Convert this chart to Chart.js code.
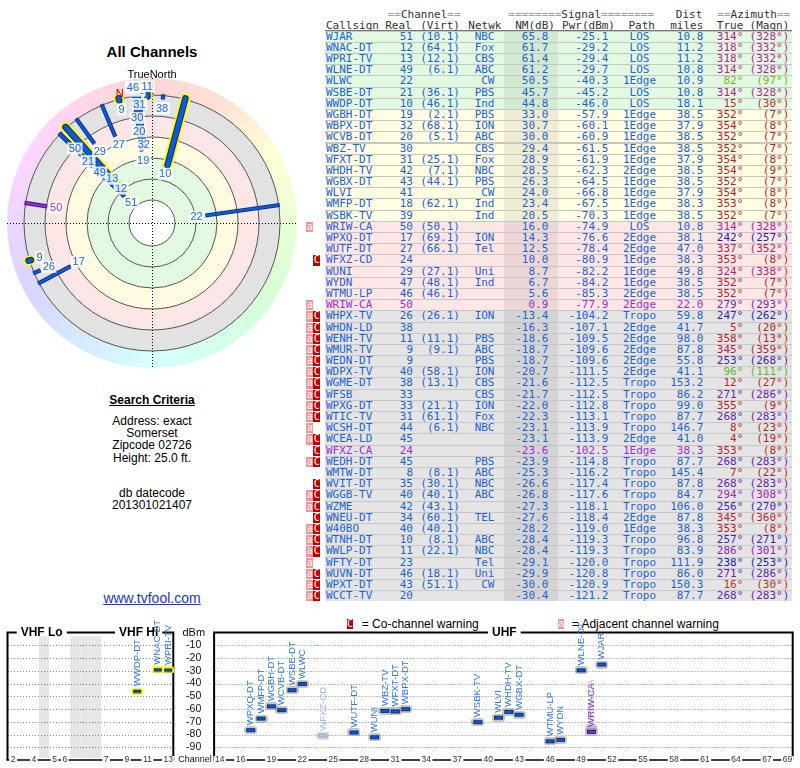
<!DOCTYPE html>
<html>
<head>
<meta charset="utf-8">
<title>All Channels</title>
<script src="https://cdn.jsdelivr.net/npm/chart.js@4.4.1/dist/chart.umd.min.js"></script>
<style>
  html, body { margin: 0; padding: 0; background: #fff; }
  body { position: relative; width: 800px; height: 768px; overflow: hidden;
         font-family: "Liberation Sans", Arial, sans-serif; color: #000; }
  .abs { position: absolute; white-space: pre; }
  .mono { font-family: "DejaVu Sans Mono", monospace; font-size: 11px; line-height: 11px; color: #333; }
  .eq { color: #a0a0a0; }
  .ctr { left: 2px; width: 300px; text-align: center; }
  .txt { font-size: 12px; line-height: 14px; }
  .row { position: absolute; left: 325px; width: 467px; height: 10.2px; }
  .cell { position: absolute; top: 0; line-height: 10.2px; white-space: pre;
          font-family: "DejaVu Sans Mono", monospace; font-size: 11px; }
  .warn { position: absolute; top: 0; height: 10.2px; line-height: 10.2px; color: #fff; text-align: center;
          font-family: "DejaVu Sans Mono", monospace; font-size: 10px; }
  canvas { position: absolute; }
</style>
</head>
<body>

<div class="abs ctr" style="top:43px;font-size:15px;font-weight:bold;">All Channels</div>

<div class="abs ctr txt" style="top:392.5px;font-weight:bold;text-decoration:underline;">Search Criteria</div>
<div class="abs ctr txt" style="top:413.5px;">Address: exact</div>
<div class="abs ctr txt" style="top:425.5px;">Somerset</div>
<div class="abs ctr txt" style="top:438px;">Zipcode 02726</div>
<div class="abs ctr txt" style="top:450.5px;">Height: 25.0 ft.</div>
<div class="abs ctr txt" style="top:485.5px;">db datecode</div>
<div class="abs ctr txt" style="top:498px;">201301021407</div>
<div class="abs ctr" style="top:590px;font-size:14px;line-height:16px;color:#2233cc;text-decoration:underline;">www.tvfool.com</div>

<!-- table header -->
<div class="abs mono" style="top:8.5px;left:387.7px;"><span class="eq">==</span>Channel<span class="eq">==</span></div>
<div class="abs mono" style="top:8.5px;left:508.3px;"><span class="eq">========</span>Signal<span class="eq">========</span></div>
<div class="abs mono" style="top:8.5px;right:97.7px;">Dist</div>
<div class="abs mono" style="top:8.5px;left:717.3px;"><span class="eq">==</span>Azimuth<span class="eq">==</span></div>

<div class="abs mono" style="top:19.5px;left:326px;">Callsign</div>
<div class="abs mono" style="top:19.5px;right:388.3px;">Real</div>
<div class="abs mono" style="top:19.5px;right:340px;">(Virt)</div>
<div class="abs mono" style="top:19.5px;left:468.3px;">Netwk</div>
<div class="abs mono" style="top:19.5px;right:245px;">NM(dB)</div>
<div class="abs mono" style="top:19.5px;right:185px;">Pwr(dBm)</div>
<div class="abs mono" style="top:19.5px;right:145px;">Path</div>
<div class="abs mono" style="top:19.5px;right:96.7px;">miles</div>
<div class="abs mono" style="top:19.5px;right:56.7px;">True</div>
<div class="abs mono" style="top:19.5px;right:10.7px;">(Magn)</div>
<div class="abs" style="top:30px;left:325px;width:467px;height:1px;background:#777;"></div>

<div id="tbl" class="abs" style="left:0;top:0;width:800px;height:610px;"></div>

<!-- warning legend -->
<div class="warn" style="left:346.7px;top:618.7px;width:6.8px;background:#c00000;">C</div>
<div class="abs txt" style="left:358.4px;top:616.7px;"> = Co-channel warning</div>
<div class="warn" style="left:557.7px;top:618.7px;width:6.8px;background:#f29494;">a</div>
<div class="abs txt" style="left:568.4px;top:616.7px;"> = Adjacent channel warning</div>

<canvas id="polar" width="305" height="315" style="left:0;top:65px;"></canvas>
<canvas id="vhf" width="215" height="168" style="left:0;top:600px;"></canvas>
<canvas id="uhf" width="595" height="168" style="left:205px;top:600px;"></canvas>

<script>
// ---- stations, strongest first, as listed in the report ----
const callsigns = ['WJAR','WNAC-DT','WPRI-TV','WLNE-DT','WLWC','WSBE-DT','WWDP-DT',
  'WGBH-DT','WBPX-DT','WCVB-DT','WBZ-TV','WFXT-DT','WHDH-TV','WGBX-DT','WLVI','WMFP-DT','WSBK-TV',
  'WRIW-CA','WPXQ-DT','WUTF-DT','WFXZ-CD','WUNI','WYDN','WTMU-LP','WRIW-CA',
  'WHPX-TV','WHDN-LD','WENH-TV','WMUR-TV','WEDN-DT','WDPX-TV','WGME-DT','WFSB','WPXG-DT','WTIC-TV',
  'WCSH-DT','WCEA-LD','WFXZ-CA','WEDH-DT','WMTW-DT','WVIT-DT','WGGB-TV','WZME','WNEU-DT','W40BO',
  'WTNH-DT','WWLP-DT','WFTY-DT','WUVN-DT','WPXT-DT','WCCT-TV'];
const realCh = [51,12,13,49,22,21,10,
  19,32,20,30,31,42,43,41,18,39,
  50,17,27,24,29,47,46,50,
  26,38,11,9,9,40,38,33,33,31,
  44,45,24,45,8,35,40,42,34,40,
  10,11,23,46,43,20];
const virtCh = [10.1,64.1,12.1,6.1,null,36.1,46.1,
  2.1,68.1,5.1,null,25.1,7.1,44.1,null,62.1,null,
  50.1,69.1,66.1,null,27.1,48.1,46.1,null,
  26.1,null,11.1,9.1,null,58.1,13.1,null,21.1,61.1,
  6.1,null,null,null,8.1,30.1,40.1,43.1,60.1,40.1,
  8.1,22.1,null,18.1,51.1,null];
const networks = ['NBC','Fox','CBS','ABC','CW','PBS','Ind',
  'PBS','ION','ABC','CBS','Fox','NBC','PBS','CW','Ind','Ind',
  '','ION','Tel','','Uni','Ind','','',
  'ION','','PBS','ABC','PBS','ION','CBS','CBS','ION','Fox',
  'NBC','','','PBS','ABC','NBC','ABC','','TEL','',
  'ABC','NBC','Tel','Uni','CW',''];
const nmDb = [65.8,61.7,61.4,61.2,50.5,45.7,44.8,
  33.0,30.7,30.0,29.4,28.9,28.5,26.3,24.0,23.4,20.5,
  16.0,14.3,12.5,10.0,8.7,6.7,5.6,0.9,
  -13.4,-16.3,-18.6,-18.7,-18.7,-20.7,-21.6,-21.7,-22.0,-22.3,
  -23.1,-23.1,-23.6,-23.9,-25.3,-26.6,-26.8,-27.3,-27.6,-28.2,
  -28.4,-28.4,-29.1,-29.9,-30.0,-30.4];
const pwrDbm = [-25.1,-29.2,-29.4,-29.7,-40.3,-45.2,-46.0,
  -57.9,-60.1,-60.9,-61.5,-61.9,-62.3,-64.5,-66.8,-67.5,-70.3,
  -74.9,-76.6,-78.4,-80.9,-82.2,-84.2,-85.3,-77.9,
  -104.2,-107.1,-109.5,-109.6,-109.6,-111.5,-112.5,-112.5,-112.8,-113.1,
  -113.9,-113.9,-102.5,-114.8,-116.2,-117.4,-117.6,-118.1,-118.4,-119.0,
  -119.3,-119.3,-120.0,-120.8,-120.9,-121.2];
const paths = ['LOS','LOS','LOS','LOS','1Edge','LOS','LOS',
  '1Edge','1Edge','1Edge','1Edge','1Edge','2Edge','1Edge','1Edge','1Edge','1Edge',
  'LOS','2Edge','2Edge','1Edge','1Edge','1Edge','2Edge','2Edge',
  'Tropo','2Edge','2Edge','2Edge','2Edge','2Edge','Tropo','Tropo','Tropo','Tropo',
  'Tropo','2Edge','1Edge','Tropo','Tropo','Tropo','Tropo','Tropo','2Edge','1Edge',
  'Tropo','Tropo','Tropo','Tropo','Tropo','Tropo'];
const distMiles = [10.8,11.2,11.2,10.8,10.9,10.8,18.1,
  38.5,37.9,38.5,38.5,37.9,38.5,38.5,37.9,38.3,38.5,
  10.8,38.1,47.0,38.3,49.8,38.5,38.5,22.0,
  59.8,41.7,98.0,87.8,55.8,41.1,153.2,86.2,99.0,87.7,
  146.7,41.0,38.3,87.7,145.4,87.8,84.7,106.0,87.8,38.3,
  96.8,83.9,111.9,86.0,150.3,87.7];
const azTrue = [314,318,318,314,82,314,15,
  352,354,352,352,354,354,352,354,353,352,
  314,242,337,353,324,352,352,279,
  247,5,358,345,253,96,12,271,355,268,
  8,4,353,268,7,268,294,256,345,353,
  257,286,238,271,16,268];
const azMagn = [328,332,332,328,97,328,30,
  7,8,7,7,8,9,7,8,8,7,
  328,257,352,8,338,7,7,293,
  262,20,13,359,268,111,27,286,9,283,
  23,19,8,283,22,283,308,270,360,8,
  271,301,253,286,30,283];
const warnings = ['','','','','','','',
  '','','','','','','','','','',
  'a','','','C','','','','a',
  'aC','aC','aC','aC','aC','aC','aC','aC','aC','aC',
  'a','aC','C','aC','','C','aC','aC','C','aC',
  'aC','aC','a','aC','aC','aC'];
const purpleRows = [24, 37];

// ---- axis categories / ticks ----
const vhfSlots = ['2','3','4','g1','5','6','g2','g3','g4','7','8','9','10','11','12','13'];
const vhfGaps = ['g1','g2','g3','g4'];
const vhfTicks = ['2','4','5','6','7','9','11','13'];
const uhfSlots = ['14','15','16','17','18','19','20','21','22','23','24','25','26','27','28','29',
  '30','31','32','33','34','35','36','37','38','39','40','41','42','43','44','45','46','47','48','49',
  '50','51','52','53','54','55','56','57','58','59','60','61','62','63','64','65','66','67','68','69'];
const uhfTicks = ['14','16','19','22','25','28','31','34','37','40','43','46','49','52','55','58','61','64','67','69'];
const dbmTicks = [-10,-20,-30,-40,-50,-60,-70,-80,-90];
const ringLevels = [80, 60, 40, 20, 0, -20];

const FONT = '"Liberation Sans", Arial, sans-serif';
const BLUE = '#1d63d6';
const PURPLE = '#9a30d8';
const D2R = Math.PI / 180;

const isPurple = i => purpleRows.includes(i);
const hueFor = az => (az < 40 ? az * 0.5 : az);
const azColor = az => `hsl(${hueFor(az)}, 72%, 42%)`;
const bandColor = nm => nm >= 40 ? '#e2fae2' : nm >= 20 ? '#fffde2' : nm >= 0 ? '#fde6e6' : '#e4e4e4';

// ---- table ----
const ROW_TOP = 31.6, ROW_PITCH = 11.19;
const tbl = document.getElementById('tbl');
const sep = document.createElement('div');
sep.className = 'abs';
Object.assign(sep.style, { left: '325px', top: (ROW_TOP - 1) + 'px', width: '467px',
  height: (callsigns.length * ROW_PITCH) + 'px', background: '#c6c6c6' });
tbl.appendChild(sep);

const columns = [
  { text: i => callsigns[i], left: 326 },
  { text: i => String(realCh[i]), right: 413 },
  { text: i => virtCh[i] == null ? '' : `(${virtCh[i].toFixed(1)})`, right: 460 },
  { text: i => networks[i], right: 494.5 },
  { text: i => nmDb[i].toFixed(1), right: 548.3 },
  { text: i => pwrDbm[i].toFixed(1), right: 608.3 },
  { text: i => paths[i], center: 639.5 },
  { text: i => distMiles[i].toFixed(1), right: 703.3 },
  { text: i => `${azTrue[i]}°`, right: 743.3, az: true },
  { text: i => `(${azMagn[i]}°)`, right: 789.3, az: true },
];

callsigns.forEach((c, i) => {
  const row = document.createElement('div');
  row.className = 'row';
  row.style.top = (ROW_TOP + i * ROW_PITCH) + 'px';
  row.style.background = bandColor(nmDb[i]);

  const shade = document.createElement('div');
  Object.assign(shade.style, { position: 'absolute', left: (504 - 325) + 'px', top: 0,
    width: '53.7px', height: '100%', background: 'rgba(0,0,0,0.065)' });
  row.appendChild(shade);

  const textColor = isPurple(i) ? PURPLE : BLUE;
  columns.forEach(col => {
    const s = document.createElement('span');
    s.className = 'cell';
    s.textContent = col.text(i);
    s.style.color = col.az ? azColor(azTrue[i]) : textColor;
    if (col.left != null) s.style.left = (col.left - 325) + 'px';
    else if (col.right != null) s.style.right = (792 - col.right) + 'px';
    else { s.style.left = (col.center - 40 - 325) + 'px'; s.style.width = '80px'; s.style.textAlign = 'center'; }
    row.appendChild(s);
  });

  if (warnings[i].includes('a')) {
    const w = document.createElement('div');
    w.className = 'warn'; w.textContent = 'a';
    Object.assign(w.style, { left: '-19px', width: '7.3px', background: '#f29494' });
    row.appendChild(w);
  }
  if (warnings[i].includes('C')) {
    const w = document.createElement('div');
    w.className = 'warn'; w.textContent = 'C';
    Object.assign(w.style, { left: '-11.7px', width: '6.8px', background: '#c00000' });
    row.appendChild(w);
  }
  tbl.appendChild(row);
});

// ---- radar plot ----
const POLAR_MIN_NM = -20;   // weaker stations are not drawn
const RIM_NM = -21;         // outer end of every station line
const OUTER_R = 145;
const LABEL_MAX_R = 137;
const radiusFor = nm => 107 - 1.05 * nm;
const polarPt = (az, r) => ({ x: r * Math.sin(az * D2R), y: r * Math.cos(az * D2R) });

const polarIdx = callsigns.map((c, i) => i).filter(i => nmDb[i] > POLAR_MIN_NM);
const polarDatasets = [];
polarIdx.forEach(i => {
  const vhf = realCh[i] <= 13;
  const pts = [polarPt(azTrue[i], radiusFor(nmDb[i])), polarPt(azTrue[i], radiusFor(RIM_NM))];
  const cap = vhf ? 'round' : 'butt';
  const base = { data: pts, showLine: true, pointRadius: 0, pointHoverRadius: 0, clip: false, borderCapStyle: cap };
  if (vhf) polarDatasets.push({ ...base, borderColor: '#ffff00', borderWidth: 10, order: 3 });
  polarDatasets.push({ ...base, borderColor: isPurple(i) ? '#4a1680' : '#0a2a7c', borderWidth: vhf ? 6.5 : 4.2, order: 2 });
  polarDatasets.push({ ...base, borderColor: isPurple(i) ? '#8e2fd6' : '#0d5ad8', borderWidth: vhf ? 4.5 : 2.4, order: 1 });
});

const zoneFills = [[-20, '#e2e2e2'], [0, '#fde6e6'], [20, '#fffbe0'], [40, '#e2fae2'], [80, '#ffffff']];

const polarBackground = {
  id: 'polarBackground',
  beforeDatasetsDraw(chart) {
    const { ctx, scales: { x, y } } = chart;
    const cx = x.getPixelForValue(0), cy = y.getPixelForValue(0);
    const px = v => x.getPixelForValue(v) - cx;
    ctx.save();
    const grad = ctx.createConicGradient(-Math.PI / 2, cx, cy);
    for (let a = 0; a <= 360; a += 30) grad.addColorStop(a / 360, `hsl(${hueFor(a % 360)}, 100%, 92%)`);
    ctx.fillStyle = grad;
    ctx.beginPath(); ctx.arc(cx, cy, px(OUTER_R), 0, Math.PI * 2); ctx.fill();
    zoneFills.forEach(([nm, color]) => {
      ctx.fillStyle = color;
      ctx.beginPath(); ctx.arc(cx, cy, px(radiusFor(nm)), 0, Math.PI * 2); ctx.fill();
    });
    ctx.strokeStyle = '#555'; ctx.lineWidth = 1;
    ringLevels.forEach(nm => { ctx.beginPath(); ctx.arc(cx, cy, px(radiusFor(nm)), 0, Math.PI * 2); ctx.stroke(); });
    ctx.strokeStyle = '#000'; ctx.setLineDash([1, 2]);
    const R = px(OUTER_R);
    ctx.beginPath();
    ctx.moveTo(cx - R, Math.round(cy) + 0.5); ctx.lineTo(cx + R, Math.round(cy) + 0.5);
    ctx.moveTo(Math.round(cx) + 0.5, cy - R); ctx.lineTo(Math.round(cx) + 0.5, cy + R);
    ctx.stroke();
    ctx.restore();
  }
};

const polarLabels = {
  id: 'polarLabels',
  afterDatasetsDraw(chart) {
    const { ctx, scales: { x, y } } = chart;
    const toPx = (az, r) => { const p = polarPt(az, r); return { x: x.getPixelForValue(p.x), y: y.getPixelForValue(p.y) }; };
    const placed = [];
    const hits = p => placed.some(q => Math.hypot(q.x - p.x, q.y - p.y) < 12);
    ctx.save();
    ctx.font = '11px ' + FONT;
    ctx.textAlign = 'center'; ctx.textBaseline = 'middle';
    polarIdx.forEach(i => {
      let r = radiusFor(nmDb[i]) - 9;
      let p = toPx(azTrue[i], r);
      while (hits(p)) {
        r += 13;
        if (r >= LABEL_MAX_R) { r = LABEL_MAX_R; p = toPx(azTrue[i], r); break; }
        p = toPx(azTrue[i], r);
      }
      placed.push(p);
      const t = String(realCh[i]);
      const w = ctx.measureText(t).width;
      ctx.fillStyle = 'rgba(255,255,255,0.85)';
      ctx.fillRect(p.x - w / 2 - 1.5, p.y - 6, w + 3, 12);
      ctx.fillStyle = isPurple(i) ? PURPLE : '#1f6ae0';
      ctx.fillText(t, p.x, p.y + 0.5);
    });
    const decl = azMagn[0] - azTrue[0];
    const n = toPx(360 - decl, 133);
    ctx.fillStyle = '#cc0000';
    ctx.fillText('N', n.x, n.y);
    const tn = toPx(0, 148);
    ctx.fillStyle = '#000';
    ctx.fillText('TrueNorth', tn.x, tn.y);
    ctx.restore();
  }
};

new Chart(document.getElementById('polar'), {
  type: 'scatter',
  data: { datasets: polarDatasets },
  options: {
    responsive: false, animation: false, events: [],
    layout: { padding: 0 },
    plugins: { legend: { display: false }, tooltip: { enabled: false } },
    scales: {
      x: { type: 'linear', min: -152, max: 153, display: false },
      y: { type: 'linear', min: -157, max: 158, display: false }
    }
  },
  plugins: [polarBackground, polarLabels]
});

// ---- signal strength strips ----
function makeMark(w, h, ring, edge, core) {
  const c = document.createElement('canvas');
  c.width = w + 4; c.height = h + 4;
  const g = c.getContext('2d');
  g.fillStyle = ring;
  g.beginPath();
  if (g.roundRect) g.roundRect(0, 0, w + 4, h + 4, 3); else g.rect(0, 0, w + 4, h + 4);
  g.fill();
  g.fillStyle = edge; g.fillRect(2, 2, w, h);
  g.fillStyle = core; g.fillRect(3, 3, w - 2, h - 2);
  return c;
}
const markUhf = makeMark(9, 4, 'rgba(140,140,140,0.5)', '#0b2d78', '#0c5bd6');
const markVhf = makeMark(8, 3.5, '#ffff00', '#0b2d78', '#0c5bd6');
const markFaded = makeMark(9, 4, 'rgba(170,170,170,0.45)', '#8fa8d4', '#b2c4e8');
const markPurple = makeMark(9, 4, 'rgba(140,140,140,0.5)', '#3d1580', '#7b2fd0');

const isFaded = i => warnings[i] !== '' && !isPurple(i);
const markFor = i => isPurple(i) ? markPurple : isFaded(i) ? markFaded : realCh[i] <= 13 ? markVhf : markUhf;
const labelColor = i => isPurple(i) ? PURPLE : isFaded(i) ? '#a4bae6' : '#2f78e6';

const shown = callsigns.map((c, i) => i).filter(i => nmDb[i] >= 0);
const vhfIdx = shown.filter(i => realCh[i] <= 13);
const uhfIdx = shown.filter(i => realCh[i] > 13);

function stripPlugin(opts) {
  return {
    id: 'strip',
    beforeDatasetsDraw(chart) {
      const { ctx, chartArea: a, scales: { x, y } } = chart;
      const slot = (a.right - a.left) / x.getLabels().length;
      ctx.save();
      ctx.fillStyle = '#e6e6e6';
      (opts.gaps || []).forEach(g => {
        const gx = x.getPixelForValue(g);
        ctx.fillRect(gx - slot / 2, a.top + 4, slot, a.bottom - a.top - 6);
      });
      ctx.strokeStyle = '#8a8a8a'; ctx.lineWidth = 1; ctx.setLineDash([1, 2]);
      dbmTicks.forEach(v => {
        const py = Math.round(y.getPixelForValue(v)) + 0.5;
        ctx.beginPath(); ctx.moveTo(a.left, py); ctx.lineTo(a.right, py); ctx.stroke();
      });
      ctx.setLineDash([]);
      ctx.strokeStyle = '#000'; ctx.lineWidth = 2;
      ctx.beginPath();
      ctx.moveTo(a.left - 0.5, a.bottom); ctx.lineTo(a.left - 0.5, a.top);
      ctx.lineTo(a.right, a.top); ctx.lineTo(a.right, a.bottom);
      ctx.stroke();
      ctx.lineWidth = 1.5;
      ctx.beginPath(); ctx.moveTo(a.left - 1.5, a.bottom); ctx.lineTo(a.right + 1, a.bottom); ctx.stroke();

      ctx.font = 'bold 12px ' + FONT; ctx.textBaseline = 'middle'; ctx.textAlign = 'left';
      opts.titles.forEach(([text, dx]) => {
        const w = ctx.measureText(text).width;
        ctx.fillStyle = '#fff'; ctx.fillRect(a.left + dx - 4, a.top - 3, w + 8, 6);
        ctx.fillStyle = '#000'; ctx.fillText(text, a.left + dx, a.top);
      });

      ctx.font = '8.5px ' + FONT; ctx.textAlign = 'center';
      opts.ticks.forEach(t => {
        const tx = x.getPixelForValue(t);
        const w = ctx.measureText(t).width;
        ctx.fillStyle = '#fff'; ctx.fillRect(tx - w / 2 - 1.5, a.bottom - 4, w + 3, 7);
        ctx.fillStyle = '#333'; ctx.fillText(t, tx, a.bottom - 0.5);
      });

      if (opts.axis) {
        ctx.fillStyle = '#111';
        ctx.font = '11px ' + FONT; ctx.textAlign = 'center';
        ctx.fillText('dBm', a.right + 20.5, a.top);
        ctx.font = '10.5px ' + FONT; ctx.textAlign = 'right';
        dbmTicks.forEach(v => ctx.fillText(String(v), a.right + 28, y.getPixelForValue(v)));
        ctx.font = '9px ' + FONT; ctx.textAlign = 'left';
        const cw = ctx.measureText('Channel').width;
        ctx.fillStyle = '#fff'; ctx.fillRect(a.right + 4, a.bottom - 4, cw + 2, 8);
        ctx.fillStyle = '#111'; ctx.fillText('Channel', a.right + 5, a.bottom - 0.5);
      }
      ctx.restore();
    },
    afterDatasetsDraw(chart) {
      const { ctx } = chart;
      const meta = chart.getDatasetMeta(0);
      const raw = chart.data.datasets[0].data;
      ctx.save();
      ctx.font = '9.5px ' + FONT; ctx.textAlign = 'left'; ctx.textBaseline = 'middle';
      meta.data.forEach((pt, k) => {
        const i = raw[k].i;
        ctx.save();
        ctx.translate(pt.x, pt.y - 5);
        ctx.rotate(-Math.PI / 2);
        ctx.fillStyle = labelColor(i);
        ctx.fillText(callsigns[i], 0, 0);
        ctx.restore();
      });
      ctx.restore();
    }
  };
}

function stripChart(id, slots, idxs, padding, opts) {
  return new Chart(document.getElementById(id), {
    type: 'line',
    data: {
      labels: slots,
      datasets: [{
        data: idxs.map(i => ({ x: String(realCh[i]), y: pwrDbm[i], i })),
        showLine: false,
        pointRadius: 3,
        pointStyle: c => markFor(c.raw.i),
        clip: false
      }]
    },
    options: {
      responsive: false, animation: false, events: [],
      layout: { padding },
      plugins: { legend: { display: false }, tooltip: { enabled: false } },
      scales: {
        x: { type: 'category', offset: true, display: false },
        y: { type: 'linear', min: -100, max: 0, display: false }
      }
    },
    plugins: [stripPlugin(opts)]
  });
}

stripChart('vhf', vhfSlots, vhfIdx, { left: 8, right: 41.7, top: 32.5, bottom: 8 },
  { gaps: vhfGaps, ticks: vhfTicks, titles: [['VHF Lo', 12.7], ['VHF Hi', 111]], axis: true });
stripChart('uhf', uhfSlots, uhfIdx, { left: 9.6, right: 7.3, top: 32.5, bottom: 8 },
  { ticks: uhfTicks, titles: [['UHF', 277.4]] });
</script>
</body>
</html>
